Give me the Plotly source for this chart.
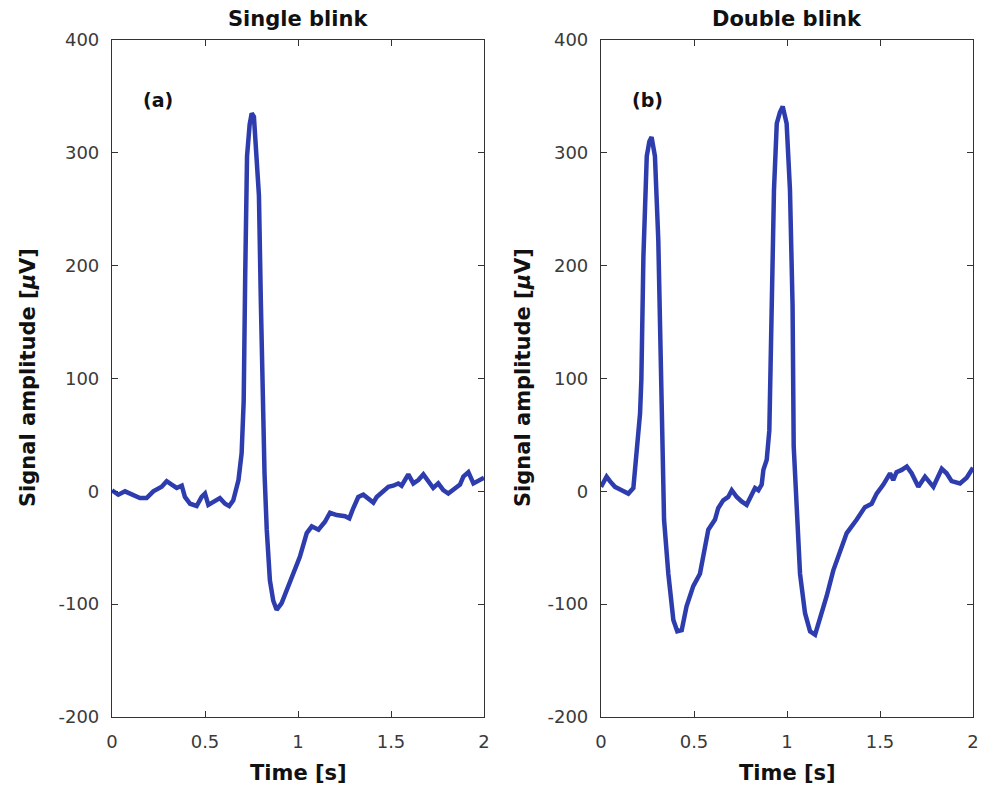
import plotly.graph_objects as go

# ---- data ----
t_single = [0.0, 0.034, 0.07, 0.115, 0.15, 0.186, 0.222, 0.267, 0.294, 0.321, 0.348, 0.375,
            0.392, 0.42, 0.455, 0.482, 0.5, 0.518, 0.554, 0.58, 0.608, 0.63, 0.652, 0.68,
            0.697, 0.708, 0.716, 0.726, 0.74, 0.751, 0.763, 0.778, 0.79, 0.8, 0.807, 0.813,
            0.82, 0.832, 0.849, 0.867, 0.885, 0.912, 0.957, 1.01, 1.047, 1.074, 1.11, 1.145,
            1.172, 1.208, 1.253, 1.276, 1.297, 1.324, 1.351, 1.378, 1.405, 1.423, 1.459,
            1.486, 1.512, 1.539, 1.557, 1.593, 1.62, 1.647, 1.674, 1.7, 1.727, 1.754, 1.781,
            1.808, 1.835, 1.871, 1.889, 1.916, 1.943, 1.969, 2.0]
v_single = [1, -3, 0, -3, -6, -6, 0, 4, 9, 6, 3, 5,
            -5, -11, -13, -5, -2, -12, -9, -6, -11, -13, -8, 10,
            34, 80, 190, 297, 325, 335, 332, 282, 262, 170, 100, 60,
            16, -34, -79, -97, -105, -99, -81, -58, -37, -31, -34, -27,
            -19, -21, -22, -24, -15, -5, -3, -6, -10, -5, 0,
            4, 5, 7, 5, 15, 7, 10, 15, 9, 3, 7, 1,
            -2, 1, 6, 13, 17, 7, 9, 12]

t_double = [0.0, 0.03, 0.048, 0.075, 0.111, 0.147, 0.174, 0.192, 0.21, 0.217, 0.221, 0.228,
            0.246, 0.26, 0.272, 0.284, 0.29, 0.308, 0.318, 0.326, 0.339, 0.362, 0.389, 0.41,
            0.434, 0.46, 0.496, 0.532, 0.559, 0.577, 0.613, 0.63, 0.657, 0.684, 0.703, 0.73,
            0.756, 0.783, 0.81, 0.828, 0.846, 0.864, 0.873, 0.891, 0.905, 0.91, 0.918, 0.93,
            0.945, 0.962, 0.977, 0.998, 1.016, 1.025, 1.03, 1.036, 1.052, 1.07, 1.097, 1.124,
            1.151, 1.177, 1.213, 1.249, 1.285, 1.321, 1.375, 1.419, 1.455, 1.482, 1.518,
            1.554, 1.571, 1.589, 1.617, 1.644, 1.67, 1.706, 1.742, 1.787, 1.832, 1.858,
            1.885, 1.93, 1.966, 2.0]
v_double = [4, 13, 9, 4, 1, -2, 3, 40, 69, 99, 150, 208,
            297, 310, 314, 305, 297, 223, 140, 60, -25, -73, -114, -124,
            -123, -102, -84, -73, -52, -34, -25, -15, -8, -5, 1, -5,
            -9, -12, -3, 3, 1, 6, 19, 28, 54, 97, 164, 267,
            326, 336, 341, 326, 267, 200, 164, 40, -19, -73, -108, -124,
            -127, -114, -93, -70, -52, -37, -25, -14, -11, -2, 6,
            16, 10, 17, 19, 22, 16, 4, 13, 4, 20, 16,
            9, 7, 12, 21]

titles = ["Single blink", "Double blink"]
panel_labels = ["(a)", "(b)"]
x_ticks = [0, 0.5, 1, 1.5, 2]
x_ticktext = ["0", "0.5", "1", "1.5", "2"]
y_ticks = [-200, -100, 0, 100, 200, 300, 400]
y_ticktext = ["-200", "-100", "0", "100", "200", "300", "400"]

# ---- layout constants ----
OFF = 8                      # page body margin
W, H = 992 - OFF, 790 - OFF
line_color = "#2E3DAE"
font_tick = dict(family="DejaVu Sans", size=18, color="#3a3a3a")
font_title = dict(family="DejaVu Sans", size=21, color="#111111")


def px_x(x):
    return (x - OFF) / W


def px_y(y):
    return 1 - (y - OFF) / H


dom_x = [(px_x(112), px_x(484)), (px_x(601), px_x(973))]
dom_y = (px_y(717), px_y(40))

fig = go.Figure()
series = [(t_single, v_single), (t_double, v_double)]
for i, (t, v) in enumerate(series):
    sfx = "" if i == 0 else "2"
    fig.add_trace(go.Scatter(x=t, y=v, mode="lines",
                             line=dict(color=line_color, width=4.5),
                             xaxis="x" + sfx, yaxis="y" + sfx, showlegend=False))

axis_common = dict(showline=True, mirror="ticks", linecolor="#333333", linewidth=1.2,
                   ticks="inside", ticklen=6, tickwidth=1.2, tickcolor="#333333",
                   showgrid=False, zeroline=False, tickfont=font_tick,
                   ticklabelstandoff=8, automargin=False)

layout = dict(width=W, height=H, margin=dict(l=0, r=0, t=0, b=0, pad=0, autoexpand=False),
              paper_bgcolor="white", plot_bgcolor="white", annotations=[])
for i in range(2):
    sfx = "" if i == 0 else "2"
    layout["xaxis" + sfx] = dict(axis_common, domain=list(dom_x[i]), range=[0, 2],
                                 tickvals=x_ticks, ticktext=x_ticktext,
                                 anchor="y" + sfx)
    layout["yaxis" + sfx] = dict(axis_common, domain=list(dom_y), range=[-200, 400],
                                 tickvals=y_ticks, ticktext=y_ticktext, anchor="x" + sfx)
    xc = (dom_x[i][0] + dom_x[i][1]) / 2
    # subplot title
    layout["annotations"].append(dict(text="<b>" + titles[i] + "</b>", x=xc, y=px_y(19),
                                      xref="paper", yref="paper", showarrow=False,
                                      font=font_title, xanchor="center", yanchor="middle"))
    # x axis title
    layout["annotations"].append(dict(text="<b>Time [s]</b>", x=xc, y=px_y(773),
                                      xref="paper", yref="paper", showarrow=False,
                                      font=font_title, xanchor="center", yanchor="middle"))
    # y axis title
    yx = [28, 523][i]
    layout["annotations"].append(dict(text="<b>Signal amplitude [<i>μ</i>V]</b>",
                                      x=px_x(yx), y=px_y(378), textangle=-90,
                                      xref="paper", yref="paper", showarrow=False,
                                      font=font_title, xanchor="center", yanchor="middle"))
    # panel label
    lx = [158, 647][i]
    layout["annotations"].append(dict(text="<b>" + panel_labels[i] + "</b>", x=px_x(lx),
                                      y=px_y(100), xref="paper", yref="paper",
                                      showarrow=False, font=dict(font_title, size=19),
                                      xanchor="center", yanchor="middle"))

fig.update_layout(**layout)
fig.write_html("out.html")
